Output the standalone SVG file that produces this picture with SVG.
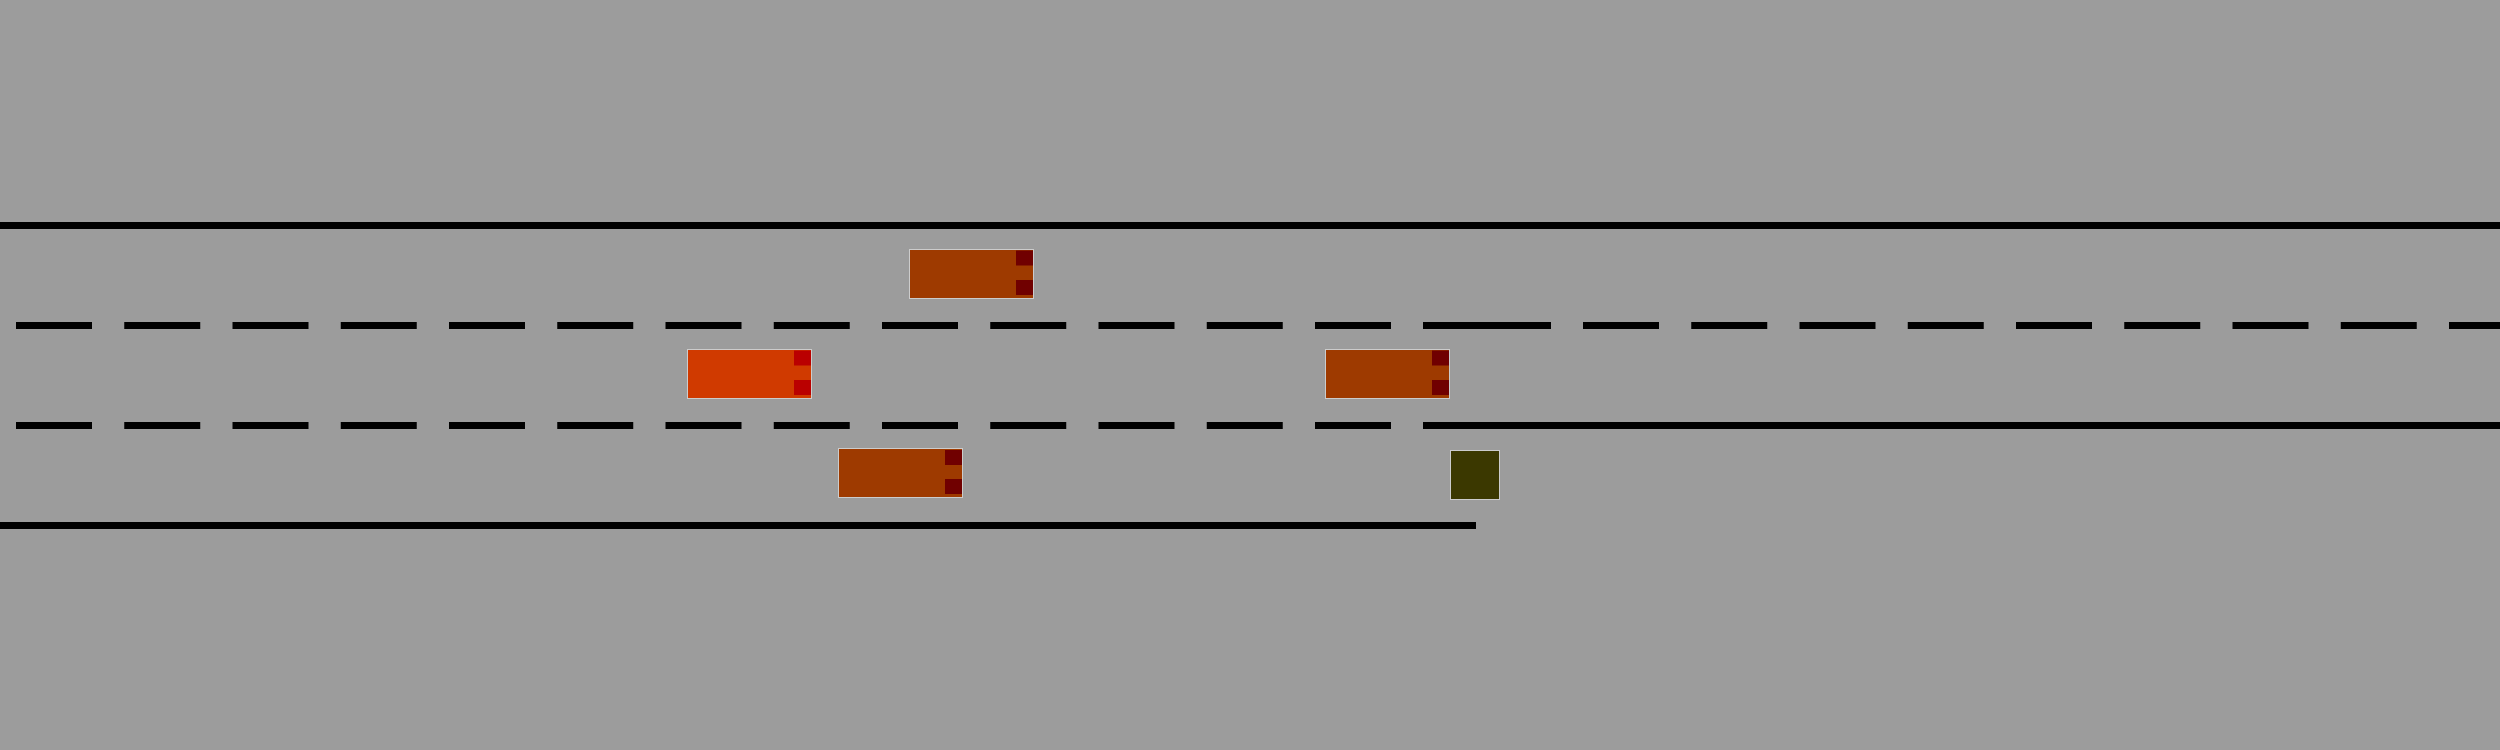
<svg xmlns="http://www.w3.org/2000/svg" width="2500" height="750" viewBox="0 0 2500 750">
  <style>
    .solid { stroke: #000; stroke-width: 7; fill: none; }
    .dash { stroke: #000; stroke-width: 7; fill: none; stroke-dasharray: 76 32.25; }
    .body { fill: #9e3a00; stroke: #cccccc; stroke-width: 1; }
    .light { fill: #700000; }
    .body-red { fill: #d03a00; stroke: #cccccc; stroke-width: 1; }
    .light-red { fill: #ba0000; }
    .obstacle { fill: #3b3800; stroke: #cccccc; stroke-width: 1; }
  </style>
  <rect x="0" y="0" width="2500" height="750" fill="#9c9c9c"/>
  <g id="road-markings">
    <line class="solid" x1="0" y1="225.5" x2="2500" y2="225.5"/>
    <line class="dash" x1="16" y1="325.5" x2="1391" y2="325.5"/>
    <line class="solid" x1="1423" y1="325.5" x2="1551" y2="325.5"/>
    <line class="dash" x1="1583" y1="325.5" x2="2500" y2="325.5"/>
    <line class="dash" x1="16" y1="425.5" x2="1391" y2="425.5"/>
    <line class="solid" x1="1423" y1="425.5" x2="2500" y2="425.5"/>
    <line class="solid" x1="0" y1="525.5" x2="1476" y2="525.5"/>
  </g>
  <g id="car-top">
    <rect class="body" x="909.5" y="249.5" width="124" height="49"/>
    <rect class="light" x="1016" y="250.5" width="17" height="15"/>
    <rect class="light" x="1016" y="280" width="17" height="15"/>
  </g>
  <g id="car-red">
    <rect class="body-red" x="687.5" y="349.5" width="124" height="49"/>
    <rect class="light-red" x="794" y="350.5" width="17" height="15"/>
    <rect class="light-red" x="794" y="380" width="17" height="15"/>
  </g>
  <g id="car-middle">
    <rect class="body" x="1325.5" y="349.5" width="124" height="49"/>
    <rect class="light" x="1432" y="350.5" width="17" height="15"/>
    <rect class="light" x="1432" y="380" width="17" height="15"/>
  </g>
  <g id="car-bottom">
    <rect class="body" x="838.5" y="448.5" width="124" height="49"/>
    <rect class="light" x="945" y="450" width="17" height="15"/>
    <rect class="light" x="945" y="479" width="17" height="15"/>
  </g>
  <g id="obstacle">
    <rect class="obstacle" x="1450.5" y="450.5" width="49" height="49"/>
  </g>
</svg>
